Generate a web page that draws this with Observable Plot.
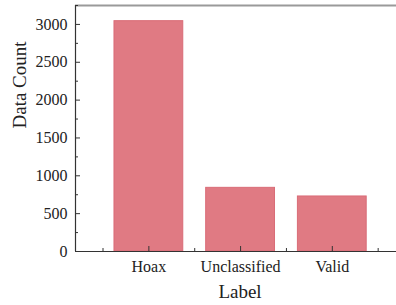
<!DOCTYPE html>
<html>
<head>
<meta charset="utf-8">
<script src="https://cdn.jsdelivr.net/npm/d3@7"></script>
<script src="https://cdn.jsdelivr.net/npm/@observablehq/plot@0.6"></script>
<style>
  html, body { margin: 0; padding: 0; background: #fff; }
</style>
</head>
<body>
<div id="chart"></div>
<script>
const labels = ["Hoax", "Unclassified", "Valid"];
const counts = [3043, 841, 727];
const yTicks = [0, 500, 1000, 1500, 2000, 2500, 3000];
const yMinorTicks = [250, 750, 1250, 1750, 2250, 2750, 3250];
const xMinorTicks = [0.5, 1.5, 2.5, 3.5];

const data = labels.map((label, i) => ({label, pos: i + 1, count: counts[i]}));
const none = () => "";

const chart = Plot.plot({
  width: 396,
  height: 305,
  marginLeft: 75,
  marginRight: 0,
  marginTop: 5,
  marginBottom: 54,
  style: {fontFamily: "'Liberation Serif', 'Times New Roman', serif", fontSize: "16px", color: "#222", background: "#fff"},
  x: {type: "linear", domain: [0.2, 3.7]},
  y: {domain: [0, 3250]},
  marks: [
    Plot.rectY(data, {x1: d => d.pos - 0.375, x2: d => d.pos + 0.375, y: "count", fill: "#e07a83", stroke: "#d96c77", strokeWidth: 1}),
    Plot.ruleY([3250], {stroke: "#9a9a9a", strokeWidth: 2}),
    Plot.ruleY([0], {stroke: "#333", strokeWidth: 1.2}),
    Plot.ruleX([0.2], {stroke: "#333", strokeWidth: 1.2}),
    Plot.axisY({ticks: yTicks, tickSize: -5, tickFormat: none, stroke: "#333", label: null}),
    Plot.axisY({ticks: yMinorTicks, tickSize: -3, tickFormat: none, stroke: "#333", label: null}),
    Plot.axisY({ticks: yTicks, tickSize: 0, tickPadding: 8, tickFormat: d => String(d), label: null, fill: "#222"}),
    Plot.axisX({ticks: [1, 2, 3], tickSize: -5, tickFormat: none, stroke: "#333", label: null}),
    Plot.axisX({ticks: xMinorTicks, tickSize: -3, tickFormat: none, stroke: "#333", label: null}),
    Plot.axisX({ticks: [1, 2, 3], tickSize: 0, tickPadding: 9, tickFormat: d => labels[d - 1], label: null, fill: "#222"}),
    Plot.text(["Label"], {frameAnchor: "bottom", dy: 40, dx: 4, lineAnchor: "middle", fontSize: 19, fill: "#222"}),
    Plot.text(["Data Count"], {frameAnchor: "left", dx: -56, rotate: -90, lineAnchor: "middle", fontSize: 19, fill: "#222"})
  ]
});
document.getElementById("chart").appendChild(chart);
</script>
</body>
</html>
